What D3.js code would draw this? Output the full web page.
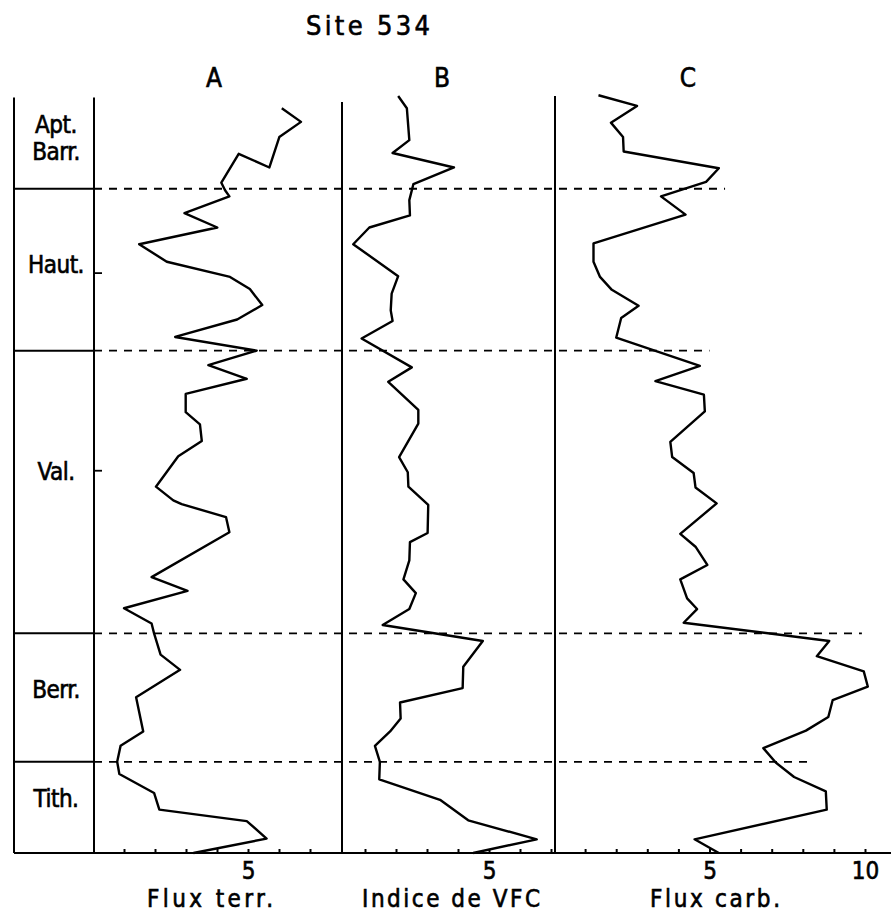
<!DOCTYPE html>
<html><head><meta charset="utf-8">
<script src="https://cdn.jsdelivr.net/npm/d3@7"></script>
<style>body{margin:0;background:#fff}svg text{font-family:"DejaVu Sans Condensed","DejaVu Sans",sans-serif;fill:#000;stroke:#000;stroke-width:0.6px}</style>
</head><body><svg id="c" width="891" height="912"></svg>
<script>
// ---- data (depth: relative level 0 = top, 100 = base of section) ----
const depthA = [2.0,3.8,5.8,9.8,8.0,11.8,12.8,13.6,15.8,17.7,19.9,22.2,24.2,25.8,27.9,29.8,32.1,33.9,35.8,37.6,39.6,42.0,43.6,45.8,47.8,51.8,53.6,54.1,55.8,57.8,63.7,65.5,67.8,69.8,71.1,73.9,75.9,79.5,84.0,85.9,88.0,89.6,92.1,94.3,95.8,98.1,100];
const fluxTerr = [6.09,6.71,6.01,5.69,4.70,4.14,4.26,4.40,2.95,4.01,1.49,2.38,4.42,5.06,5.46,4.65,2.65,5.28,3.72,4.96,2.99,2.99,3.45,3.51,2.75,2.03,2.59,2.86,4.29,4.40,1.89,3.05,1.00,1.89,1.97,2.18,2.81,1.39,1.62,0.89,0.78,0.85,1.97,2.14,4.96,5.60,3.24];

const depthB = [0.4,2.0,6.2,7.9,9.8,12.0,14.1,16.1,17.7,19.9,24.1,26.4,28.6,30.0,32.3,36.1,38.0,41.7,43.5,47.9,49.9,51.8,54.2,57.9,59.1,61.5,64.0,65.8,67.9,70.0,72.1,75.5,78.3,80.2,82.3,84.0,85.9,88.0,90.3,93.0,95.7,98.2,100];
const indiceVFC = [2.07,2.35,2.43,1.89,3.87,2.56,2.43,2.45,1.14,0.62,2.07,1.86,1.83,1.89,0.89,2.51,1.75,2.72,2.72,2.10,2.38,2.40,3.04,3.02,2.45,2.43,2.24,2.64,2.43,1.57,4.80,4.17,4.15,2.13,2.15,1.81,1.32,1.48,1.46,3.42,4.33,6.54,4.49];

const depthC = [0.3,1.7,3.9,5.8,7.7,9.9,11.7,13.6,16.0,19.8,22.2,24.2,25.9,28.0,29.6,32.2,35.9,37.9,39.7,41.9,45.9,47.9,50.0,51.9,54.0,58.0,59.7,62.1,64.0,66.5,67.9,69.7,72.1,74.1,76.1,78.1,79.9,82.1,83.9,86.2,88.1,90.0,91.9,94.3,98.2,100];
const fluxCarb = [1.43,2.67,1.83,2.22,2.24,5.30,4.89,3.44,4.23,1.27,1.27,1.48,1.86,2.72,2.16,2.00,4.69,3.26,4.82,4.85,3.74,3.80,4.49,4.55,5.23,4.06,4.55,4.93,4.06,4.28,4.60,4.17,8.85,8.45,9.96,10.09,8.96,8.82,8.10,6.73,7.13,7.72,8.74,8.77,4.52,5.30];

const stageNames = ["Apt.\nBarr.","Haut.","Val.","Berr.","Tith."];
const stageLabelDepth = [5.8, 22.6, 49.8, 78.5, 92.8];
const stageBounds = [12.6, 33.9, 71.1, 88.0];      // stage limits (depth)
const boundReachC = [5.5, 5.0, 9.9, 8.3];          // how far each dashed limit reaches (panel C units)
const stageMarks = [23.7, 49.7];                   // small marks on depth axis
const ticksA = [1,2,3,4,5,6,7], ticksB = [1,2,3,4,5,6,7], ticksC = [1,2,3,4,5,6,7,8,9,10];
const labelledA = [5], labelledB = [5], labelledC = [5,10];
const panelLetters = ["A","B","C"];
const axisTitles = ["Flux terr.","Indice de VFC","Flux carb."];
const chartTitle = "Site 534";

// ---- layout ----
const svg = d3.select("#c");
const y = d3.scaleLinear().domain([0,100]).range([93,853]);
const xA = d3.scaleLinear().domain([0,10]).range([93,403]);
const xB = d3.scaleLinear().domain([0,10]).range([334,644]);
const xC = d3.scaleLinear().domain([0,10]).range([554,865]);
const stageL = 14, stageR = 94, bndAB = 342, bndBC = 555, yTop = y(0.6), yBot = y(100);

const g = svg.append("g");
// frame verticals
[[stageL,yTop],[stageR,yTop],[bndAB,y(1.2)],[bndBC,y(0.4)]].forEach(([x,t])=>{
  g.append("line").attr("x1",x).attr("x2",x).attr("y1",t).attr("y2",yBot)
   .attr("stroke","#000").attr("stroke-width",2);
});
// bottom axis base line
g.append("line").attr("x1",stageL).attr("x2",891).attr("y1",yBot).attr("y2",yBot)
 .attr("stroke","#000").attr("stroke-width",2.2);

// stage boundaries
stageBounds.forEach((d,i)=>{
  g.append("line").attr("x1",stageL).attr("x2",stageR).attr("y1",y(d)).attr("y2",y(d))
   .attr("stroke","#000").attr("stroke-width",2);
  g.append("line").attr("x1",stageR).attr("x2",xC(boundReachC[i])).attr("y1",y(d)).attr("y2",y(d))
   .attr("stroke","#000").attr("stroke-width",1.8).attr("stroke-dasharray","8,7");
});
// small marks
stageMarks.forEach(d=>{
  g.append("line").attr("x1",stageR).attr("x2",stageR+8).attr("y1",y(d)).attr("y2",y(d))
   .attr("stroke","#000").attr("stroke-width",1.8);
});
// stage labels
stageNames.forEach((n,i)=>{
  const lines = n.split("\n");
  const t = g.append("text").attr("text-anchor","middle").attr("font-size",24)
    .attr("x",56).attr("y",y(stageLabelDepth[i]));
  lines.forEach((ln,j)=>t.append("tspan").attr("x",56).attr("dy", j===0 ? (lines.length>1? "-0.15em":"0.35em") : "1.1em")
    .attr("letter-spacing",-0.5).text(ln));
});

// series lines
const series = [[xA,depthA,fluxTerr],[xB,depthB,indiceVFC],[xC,depthC,fluxCarb]];
series.forEach(([xs,ds,vs])=>{
  const pts = ds.map((d,i)=>[d,vs[i]]);
  g.append("path").datum(pts)
   .attr("d", d3.line().x(p=>xs(p[1])).y(p=>y(p[0])))
   .attr("fill","none").attr("stroke","#000").attr("stroke-width",2.4).attr("stroke-linejoin","round");
});

// bottom axes
[[xA,ticksA,labelledA],[xB,ticksB,labelledB],[xC,ticksC,labelledC]].forEach(([xs,tv,lab])=>{
  const ax = g.append("g").attr("transform",`translate(0,${yBot})`)
    .call(d3.axisBottom(xs).tickValues(tv).tickSizeInner(-4).tickSizeOuter(0)
      .tickFormat(d=>lab.includes(d)? String(d):""));
  ax.select(".domain").remove();
  ax.selectAll(".tick line").attr("stroke","#000").attr("stroke-width",2);
  ax.selectAll(".tick text").attr("y",26).attr("dy",0).attr("font-size",24)
    .attr("font-family",'"DejaVu Sans Condensed","DejaVu Sans",sans-serif').attr("fill","#000");
});

// axis titles
const titleX = [210, 451, 715], titleW = [126, 178, 130];
axisTitles.forEach((t,i)=>{
  g.append("text").attr("x",titleX[i]).attr("y",907).attr("text-anchor","middle")
   .attr("font-size",24).attr("textLength",titleW[i]).attr("lengthAdjust","spacing").text(t);
});
// panel letters
const letterX = [214, 442, 688];
panelLetters.forEach((t,i)=>{
  g.append("text").attr("x",letterX[i]).attr("y",87).attr("text-anchor","middle")
   .attr("font-size",26).text(t);
});
// chart title
g.append("text").attr("x",368).attr("y",35).attr("text-anchor","middle")
 .attr("font-size",27).attr("textLength",124).attr("lengthAdjust","spacing").text(chartTitle);
</script>
</body></html>
